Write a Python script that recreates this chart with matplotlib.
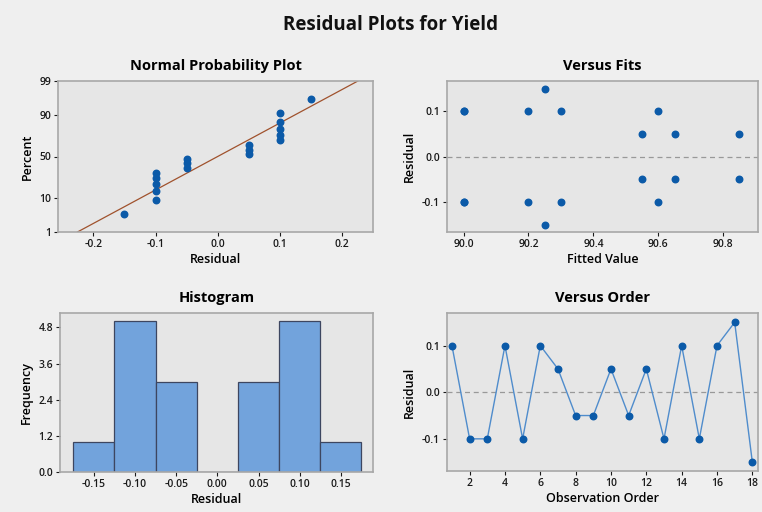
import numpy as np
import matplotlib
matplotlib.use('Agg')
import matplotlib.pyplot as plt
from statistics import NormalDist

# residuals in observation order
order = list(range(1, 19))
residuals = [0.1, -0.1, -0.1, 0.1, -0.1, 0.1, 0.05, -0.05, -0.05,
             0.05, -0.05, 0.05, -0.1, 0.1, -0.1, 0.1, 0.15, -0.15]
fitted = [90.0, 90.0, 90.2, 90.2, 90.3, 90.3, 90.55, 90.55, 90.65,
          90.65, 90.85, 90.85, 90.6, 90.6, 90.0, 90.0, 90.25, 90.25]

hist_centers = [-0.15, -0.10, -0.05, 0.0, 0.05, 0.10, 0.15]
hist_counts = [1, 5, 3, 0, 3, 5, 1]

pct_ticks = [1, 10, 50, 90, 99]

plt.rcParams['font.family'] = ['Open Sans', 'DejaVu Sans']

W, H = 762, 512
fig = plt.figure(figsize=(W / 100, H / 100), dpi=100)
fig.patch.set_facecolor('#efefef')

blue = '#0b5aa8'
face = '#e6e6e6'
edge = '#a8a8a8'
tick_fs = 7.5
lab_fs = 9
title_fs = 10.5


def px_axes(l, t, r, b):
    ax = fig.add_axes([l / W, 1 - b / H, (r - l) / W, (b - t) / H])
    ax.set_facecolor(face)
    for s in ax.spines.values():
        s.set_color(edge)
        s.set_linewidth(1.2)
    ax.tick_params(labelsize=tick_fs, length=3, width=0.8, colors='#1a1a1a', pad=2)
    return ax


def style_ticks(ax):
    for lbl in ax.get_xticklabels() + ax.get_yticklabels():
        lbl.set_fontweight('semibold')


fig.text(0.512, 1 - 25 / H, 'Residual Plots for Yield', ha='center', va='center',
         fontsize=13.5, fontweight='bold', color='#111111')

nd = NormalDist()

# Normal probability plot
ax1 = px_axes(58, 81, 373, 232)
r_sorted = np.sort(residuals)
n = len(r_sorted)
pct = [(i - 0.3) / (n + 0.4) for i in range(1, n + 1)]
z = [nd.inv_cdf(p) for p in pct]
sd = np.std(residuals, ddof=1)
mu = np.mean(residuals)
xl = np.array([mu + sd * nd.inv_cdf(0.01), mu + sd * nd.inv_cdf(0.99)])
ax1.plot(xl, (xl - mu) / sd, color='#a0522d', lw=0.9)
ax1.scatter(r_sorted, z, s=22, color=blue, zorder=3)
ax1.set_xlim(-0.257, 0.25)
ax1.set_ylim(nd.inv_cdf(0.01), nd.inv_cdf(0.99))
ax1.set_yticks([nd.inv_cdf(p / 100) for p in pct_ticks])
ax1.set_yticklabels([str(p) for p in pct_ticks])
ax1.set_xticks([-0.2, -0.1, 0.0, 0.1, 0.2])
ax1.set_xticklabels(['-0.2', '-0.1', '0.0', '0.1', '0.2'])
ax1.set_xlabel('Residual', fontsize=lab_fs, fontweight='semibold', labelpad=2)
ax1.set_ylabel('Percent', fontsize=lab_fs, fontweight='semibold', labelpad=4)
ax1.set_title('Normal Probability Plot', fontsize=title_fs, fontweight='bold', pad=8)
style_ticks(ax1)

# Versus fits
ax2 = px_axes(447, 81, 758, 232)
ax2.axhline(0, color='#999999', lw=0.9, ls=(0, (4, 3)))
ax2.scatter(fitted, residuals, s=22, color=blue, zorder=3)
ax2.set_xlim(89.949, 90.907)
ax2.set_ylim(-0.166, 0.167)
ax2.set_xticks([90.0, 90.2, 90.4, 90.6, 90.8])
ax2.set_xticklabels(['90.0', '90.2', '90.4', '90.6', '90.8'])
ax2.set_yticks([-0.1, 0.0, 0.1])
ax2.set_yticklabels(['-0.1', '0.0', '0.1'])
ax2.set_xlabel('Fitted Value', fontsize=lab_fs, fontweight='semibold', labelpad=2)
ax2.set_ylabel('Residual', fontsize=lab_fs, fontweight='semibold', labelpad=4)
ax2.set_title('Versus Fits', fontsize=title_fs, fontweight='bold', pad=8)
style_ticks(ax2)

# Histogram
ax3 = px_axes(60, 313, 373, 472)
ax3.bar(hist_centers, hist_counts, width=0.05, color='#72a3dc', edgecolor='#3d4660', lw=0.9)
ax3.set_xlim(-0.191, 0.189)
ax3.set_ylim(0, 5.28)
ax3.set_yticks([0.0, 1.2, 2.4, 3.6, 4.8])
ax3.set_yticklabels(['0.0', '1.2', '2.4', '3.6', '4.8'])
ax3.set_xticks(hist_centers)
ax3.set_xticklabels(['-0.15', '-0.10', '-0.05', '0.00', '0.05', '0.10', '0.15'])
ax3.set_xlabel('Residual', fontsize=lab_fs, fontweight='semibold', labelpad=2)
ax3.set_ylabel('Frequency', fontsize=lab_fs, fontweight='semibold', labelpad=4)
ax3.set_title('Histogram', fontsize=title_fs, fontweight='bold', pad=8)
style_ticks(ax3)

# Versus order
ax4 = px_axes(447, 313, 758, 471)
ax4.axhline(0, color='#999999', lw=0.9, ls=(0, (4, 3)))
ax4.plot(order, residuals, color='#4f8ccc', lw=1.0, zorder=2)
ax4.scatter(order, residuals, s=22, color=blue, zorder=3)
ax4.set_xlim(0.72, 18.32)
ax4.set_ylim(-0.169, 0.170)
ax4.set_xticks(list(range(2, 19, 2)))
ax4.set_yticks([-0.1, 0.0, 0.1])
ax4.set_yticklabels(['-0.1', '0.0', '0.1'])
ax4.set_xlabel('Observation Order', fontsize=lab_fs, fontweight='semibold', labelpad=2)
ax4.set_ylabel('Residual', fontsize=lab_fs, fontweight='semibold', labelpad=4)
ax4.set_title('Versus Order', fontsize=title_fs, fontweight='bold', pad=8)
style_ticks(ax4)

fig.savefig('out.png', dpi=100, facecolor=fig.get_facecolor())
